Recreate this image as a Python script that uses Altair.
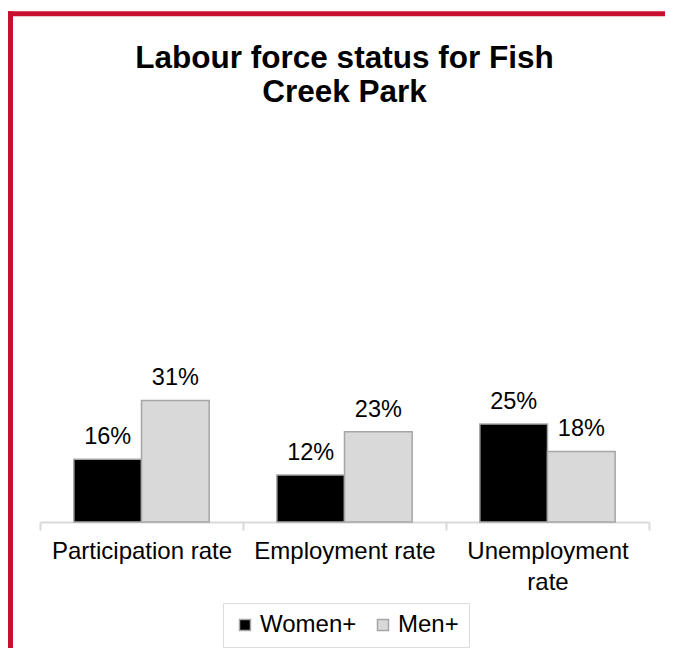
import altair as alt
import pandas as pd

categories = ["Participation rate", "Employment rate", "Unemployment rate"]
women = [0.16, 0.12, 0.25]
men = [0.31, 0.23, 0.18]
groups = ["Women+", "Men+"]
title_lines = ["Labour force status for Fish", "Creek Park"]

rows = []
for c, w, m in zip(categories, women, men):
    rows.append({"category": c, "group": groups[0], "value": w})
    rows.append({"category": c, "group": groups[1], "value": m})
df = pd.DataFrame(rows)

FONT = "Liberation Sans"
W, H = 609, 392
RED = "#C8102E"

x = alt.X(
    "category:N",
    sort=categories,
    scale=alt.Scale(paddingInner=0, paddingOuter=0),
    axis=alt.Axis(
        title=None,
        labelAngle=0,
        tickBand="extent",
        domainColor="#d9d9d9",
        domainWidth=2,
        tickColor="#d9d9d9",
        tickWidth=2,
        tickSize=8,
        labelFontSize=24,
        labelFont=FONT,
        labelColor="#000000",
        labelPadding=9,
        labelLineHeight=31,
        labelLimit=400,
        labelExpr="datum.value == 'Unemployment rate' ? ['Unemployment', 'rate'] : datum.label",
    ),
)
xo = alt.XOffset("group:N", sort=groups, scale=alt.Scale(paddingInner=0, paddingOuter=0.5))
y = alt.Y("value:Q", scale=alt.Scale(domain=[0, 1]), axis=None)

bars = alt.Chart(df).mark_bar(stroke="#a6a6a6", strokeWidth=1.5).encode(
    x=x,
    xOffset=xo,
    y=y,
    color=alt.Color(
        "group:N",
        sort=groups,
        scale=alt.Scale(domain=groups, range=["#000000", "#d9d9d9"]),
        legend=alt.Legend(
            title=None,
            orient="none",
            legendX=183,
            legendY=473,
            direction="horizontal",
            symbolType="square",
            symbolSize=121,
            symbolStrokeColor="#a6a6a6",
            symbolStrokeWidth=1.5,
            labelFontSize=24,
            labelFont=FONT,
            labelColor="#000000",
            labelOffset=3,
            columnPadding=14,
            padding=10,
            strokeColor="#dcdcdc",
            fillColor="#ffffff",
        ),
    ),
)

labels = alt.Chart(df).mark_text(
    baseline="alphabetic", dy=-15, fontSize=23.5, font=FONT, color="#000000"
).encode(x=x, xOffset=xo, y=y, text=alt.Text("value:Q", format=".0%"))

one = alt.Data(values=[{}])
title = alt.Chart(one).mark_text(
    text=title_lines,
    font=FONT,
    fontSize=31.5,
    fontWeight="bold",
    color="#000000",
    align="center",
    baseline="alphabetic",
    lineHeight=33.5,
).encode(x=alt.value(W / 2), y=alt.value(-62))

border_top = alt.Chart(one).mark_rule(color=RED, strokeWidth=5).encode(
    x=alt.value(-32), x2=alt.value(640), y=alt.value(-116.2)
)
border_left = alt.Chart(one).mark_rule(color=RED, strokeWidth=5).encode(
    x=alt.value(-29.5), y=alt.value(-118.7), y2=alt.value(530)
)

chart = (
    alt.layer(bars, labels, title, border_top, border_left)
    .properties(
        width=W,
        height=H,
        autosize=alt.AutoSizeParams(type="none"),
        padding={"left": 32, "top": 122, "right": 16, "bottom": 126},
        background="#ffffff",
    )
    .configure_view(stroke=None)
)

chart.save("out.html", embed_options={"renderer": "svg", "actions": False})
